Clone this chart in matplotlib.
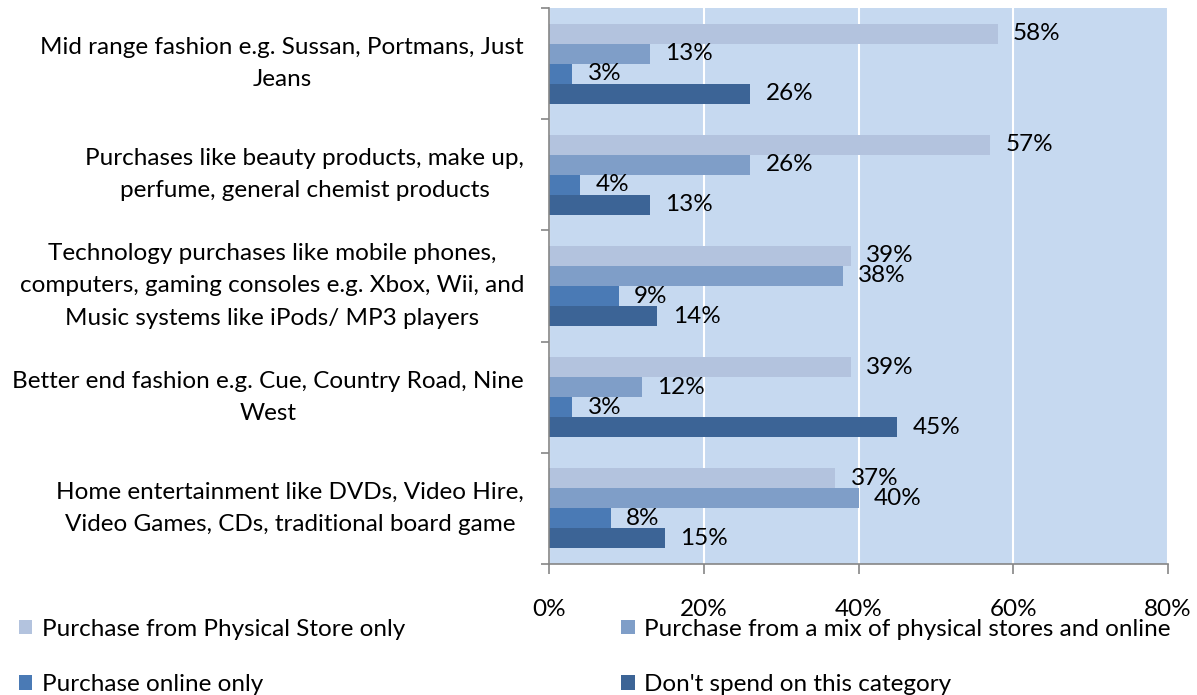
import matplotlib.pyplot as plt
from matplotlib.patches import Patch

plt.rcParams['font.family'] = ['Lato', 'DejaVu Sans']

categories = [
    'Mid range fashion e.g. Sussan, Portmans, Just\nJeans',
    'Purchases like beauty products, make up,\nperfume, general chemist products',
    'Technology purchases like mobile phones,\ncomputers, gaming consoles e.g. Xbox, Wii, and\nMusic systems like iPods/ MP3 players',
    'Better end fashion e.g. Cue, Country Road, Nine\nWest',
    'Home entertainment like DVDs, Video Hire,\nVideo Games, CDs, traditional board game',
]
series_names = [
    'Purchase from Physical Store only',
    'Purchase from a mix of physical stores and online',
    'Purchase online only',
    "Don't spend on this category",
]
physical = [58, 57, 39, 39, 37]
mixed = [13, 26, 38, 12, 40]
online = [3, 4, 9, 3, 8]
no_spend = [26, 13, 14, 45, 15]
x_ticks = [0, 20, 40, 60, 80]

colors = ['#b3c3de', '#7f9ec8', '#4a7ab5', '#3c6496']
values = [physical, mixed, online, no_spend]

fig = plt.figure(figsize=(11.97, 6.95), dpi=100)
ax = fig.add_axes([549 / 1197, 131 / 695, 619 / 1197, 556 / 695])
ax.set_facecolor('#c6d9f0')

h = 0.18
fs = 17.5
for k, (vals, col) in enumerate(zip(values, colors)):
    ys = [i + 0.5 + (k - 1.5) * h for i in range(len(categories))]
    ax.barh(ys, vals, height=h, color=col, zorder=2)
    for y, v in zip(ys, vals):
        ax.annotate(f'{v}%', (v, y), xytext=(11, 0), textcoords='offset points',
                    va='center', ha='left', fontsize=fs, color='black')

for i, name in enumerate(categories):
    ax.annotate(name, (0, i + 0.5), xycoords=('axes fraction', 'data'),
                xytext=(-18, 0), textcoords='offset points',
                ha='right', va='center', multialignment='center',
                fontsize=fs, linespacing=1.65)

ax.set_xlim(0, 80)
ax.set_ylim(5, 0)
ax.set_xticks(x_ticks)
ax.set_xticklabels([f'{t}%' for t in x_ticks])
ax.set_yticks(range(6))
ax.set_yticklabels([])
ax.grid(axis='x', color='white', linewidth=1.5, zorder=1)
ax.set_axisbelow(True)
for s in ['top', 'right']:
    ax.spines[s].set_visible(False)
for s in ['left', 'bottom']:
    ax.spines[s].set_color('#868686')
    ax.spines[s].set_linewidth(1.2)
ax.tick_params(axis='x', length=7, width=1.2, color='#868686', pad=18, labelsize=fs)
ax.tick_params(axis='y', length=6, width=1.2, color='#868686')

handles = [Patch(facecolor=c) for c in colors]
order = [0, 2, 1, 3]
fig.legend([handles[i] for i in order], [series_names[i] for i in order],
           ncol=2, loc='upper left', bbox_to_anchor=(9 / 1197, 1 - 609 / 695),
           frameon=False, fontsize=fs, handlelength=0.55, handleheight=0.55,
           handletextpad=0.4, labelspacing=1.41, columnspacing=8.9,
           borderaxespad=0)

fig.savefig('out.png', dpi=100)
